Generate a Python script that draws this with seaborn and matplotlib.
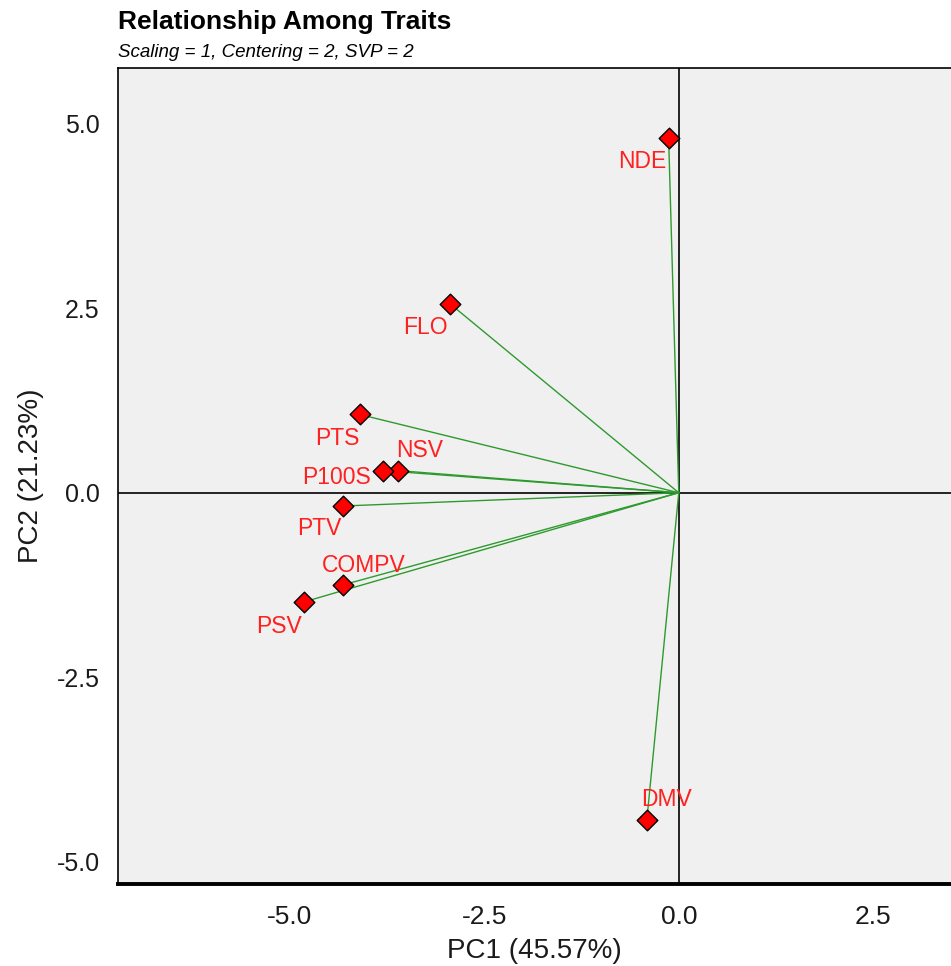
import numpy as np
import matplotlib
matplotlib.use("Agg")
import matplotlib.pyplot as plt
import pandas as pd
import seaborn as sns

# trait loadings
traits = ['NDE', 'FLO', 'PTS', 'NSV', 'P100S', 'PTV', 'COMPV', 'PSV', 'DMV']
pc1 = [-0.13, -2.94, -4.10, -3.61, -3.80, -4.32, -4.32, -4.82, -0.41]
pc2 = [4.80, 2.56, 1.06, 0.30, 0.30, -0.18, -1.25, -1.48, -4.43]

df = pd.DataFrame({'trait': traits, 'PC1': pc1, 'PC2': pc2})

# label offsets in pixels (where each name sits relative to its marker)
offsets = {'NDE': (-26, -23), 'FLO': (-25, -24), 'PTS': (-23, -24),
           'NSV': (22, 20), 'P100S': (-47, -7), 'PTV': (-23, -22),
           'COMPV': (21, 19), 'PSV': (-25, -25), 'DMV': (20, 20)}

sns.set_style("white")
plt.rcParams['font.family'] = ['Liberation Sans', 'DejaVu Sans']

fig = plt.figure(figsize=(9.51, 9.66), dpi=100)
ax = fig.add_axes([0.124, 0.085, 0.876, 0.845])
ax.set_facecolor('#f0f0f0')

# cross hairs through the origin
ax.axhline(0, color='black', lw=1.2, zorder=1)
ax.axvline(0, color='black', lw=1.2, zorder=1)

# vectors from origin
for x, y in zip(df['PC1'], df['PC2']):
    ax.plot([0, x], [0, y], color='#2e9a2e', lw=1.0, zorder=2)

sns.scatterplot(data=df, x='PC1', y='PC2', marker='D', s=110, color='#ff0000',
                edgecolor='black', linewidth=1.0, ax=ax, zorder=3, legend=False)

for t, x, y in zip(df['trait'], df['PC1'], df['PC2']):
    dx, dy = offsets[t]
    ax.annotate(t, (x, y), xytext=(dx, dy), textcoords='offset pixels',
                ha='center', va='center', color='#ff2020', fontsize=16.5)

ax.set_xlim(-7.21, 3.50)
ax.set_ylim(-5.30, 5.76)
ax.set_xticks([-5.0, -2.5, 0.0, 2.5])
ax.set_yticks([-5.0, -2.5, 0.0, 2.5, 5.0])
ax.set_xticklabels(['-5.0', '-2.5', '0.0', '2.5'], fontsize=19)
ax.set_yticklabels(['-5.0', '-2.5', '0.0', '2.5', '5.0'], fontsize=18)
ax.tick_params(axis='x', length=10, width=1, direction='out',
               color='black', labelcolor='#1a1a1a', pad=5)
ax.tick_params(axis='y', length=11, width=1, direction='out',
               color='black', labelcolor='#1a1a1a', pad=2)

for side in ['left', 'top']:
    ax.spines[side].set_color('black')
    ax.spines[side].set_linewidth(1.2)
ax.spines['bottom'].set_color('black')
ax.spines['bottom'].set_linewidth(2.8)
ax.spines['right'].set_visible(False)

ax.set_xlabel('PC1 (45.57%)', fontsize=20, color='#1a1a1a', labelpad=7)
ax.set_ylabel('PC2 (21.23%)', fontsize=20, color='#1a1a1a', labelpad=9)

fig.text(0.124, 0.977, 'Relationship Among Traits', fontsize=19,
         fontweight='bold', va='center', ha='left', color='black')
fig.text(0.124, 0.946, 'Scaling = 1, Centering = 2, SVP = 2', fontsize=13.5,
         fontstyle='italic', va='center', ha='left', color='black')

fig.savefig('out.png', dpi=100)
